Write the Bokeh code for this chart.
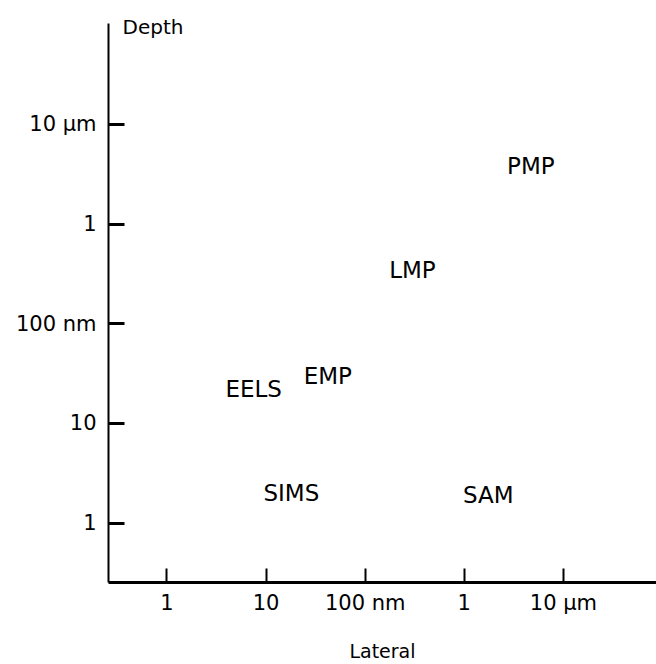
from bokeh.plotting import figure
from bokeh.models import ColumnDataSource, FixedTicker, Label, Range1d
from bokeh.core.properties import value
from bokeh.embed import file_html
from bokeh.resources import INLINE

# Techniques: lateral resolution (nm) vs depth resolution (nm)
techniques = ["PMP", "LMP", "EELS", "EMP", "SIMS", "SAM"]
lateral_nm = [4700, 300, 7.5, 42, 18, 1750]
depth_nm = [3800, 350, 22, 30, 2.0, 1.9]

tick_values = [1, 10, 100, 1000, 10000]
tick_labels = ["1", "10", "100 nm", "1", "10 µm"]

FONT = "DejaVu Sans"
X_START, X_END = 0.257, 87000
Y_START, Y_END = 0.254, 175000
Y_AXIS_TOP = 102000

p = figure(width=656, height=664, x_axis_type="log", y_axis_type="log",
           x_range=Range1d(X_START, X_END), y_range=Range1d(Y_START, Y_END),
           output_backend="svg", toolbar_location=None,
           min_border_left=108, min_border_right=0, min_border_top=0,
           min_border_bottom=82)
p.outline_line_color = None
p.grid.visible = False
p.background_fill_color = "white"
p.border_fill_color = "white"

src = ColumnDataSource(dict(x=lateral_nm, y=depth_nm, name=techniques))
p.text(x="x", y="y", text="name", source=src, text_align="center",
       text_baseline="middle", text_font=value(FONT), text_font_size="23px",
       text_color="black")

overrides = {float(v): t for v, t in zip(tick_values, tick_labels)}

xa = p.xaxis[0]
xa.ticker = FixedTicker(ticks=tick_values, minor_ticks=[])
xa.major_label_overrides = overrides
xa.axis_line_width = 3
xa.axis_line_color = "black"
xa.major_tick_in = 14
xa.major_tick_out = 0
xa.major_tick_line_width = 2
xa.minor_tick_line_color = None
xa.major_label_standoff = 8
xa.major_label_text_font = FONT
xa.major_label_text_font_size = "21px"
xa.major_label_text_color = "black"
xa.axis_label = "Lateral"
xa.axis_label_text_font = FONT
xa.axis_label_text_font_size = "19px"
xa.axis_label_text_font_style = "normal"
xa.axis_label_text_color = "black"
xa.axis_label_text_align = "right"
xa.axis_label_standoff = 22

ya = p.yaxis[0]
ya.bounds = (Y_START, Y_AXIS_TOP)
ya.ticker = FixedTicker(ticks=tick_values, minor_ticks=[])
ya.major_label_overrides = overrides
ya.axis_line_width = 2
ya.axis_line_color = "black"
ya.major_tick_in = 16
ya.major_tick_out = 0
ya.major_tick_line_width = 3
ya.minor_tick_line_color = None
ya.major_label_standoff = 12
ya.major_label_orientation = "horizontal"
ya.major_label_text_font = FONT
ya.major_label_text_font_size = "21px"
ya.major_label_text_color = "black"

p.add_layout(Label(x=X_START, y=Y_AXIS_TOP, x_offset=14, y_offset=-3, text="Depth",
                   text_font=FONT, text_font_size="20px", text_align="left",
                   text_baseline="middle", text_color="black"))

open("out.html", "w").write(file_html(p, INLINE))
